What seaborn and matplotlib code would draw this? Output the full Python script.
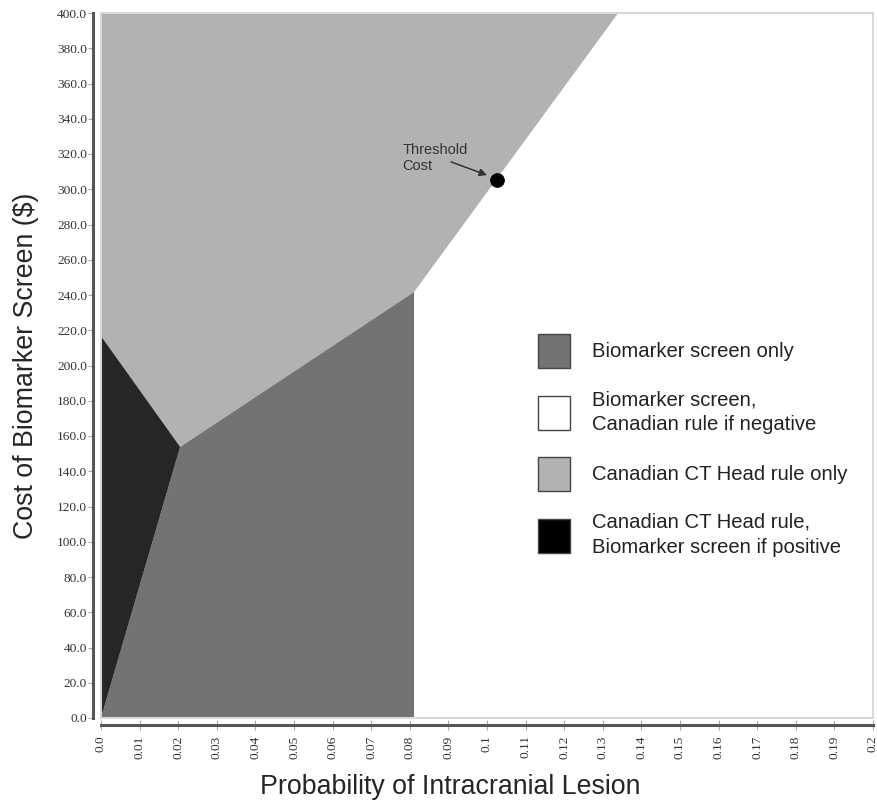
import matplotlib
matplotlib.use("Agg")
import matplotlib.pyplot as plt
import seaborn as sns
import pandas as pd
from matplotlib.patches import Patch, Rectangle

# ---- data ----
# region polygons (probability, cost)
ct_pos_x = [0.0, 0.0, 0.0205]
ct_pos_y = [0.0, 216.7, 153.8]
bio_only_x = [0.0, 0.0205, 0.0811, 0.0811]
bio_only_y = [0.0, 153.8, 241.7, 0.0]
ct_only_x = [0.0, 0.0, 0.134, 0.0811, 0.0205]
ct_only_y = [216.7, 400.0, 400.0, 241.7, 153.8]
threshold_x = [0.1026]
threshold_y = [305.0]

x_ticks = [round(i * 0.01, 2) for i in range(21)]
x_tick_labels = ["0.0", "0.01", "0.02", "0.03", "0.04", "0.05", "0.06", "0.07", "0.08", "0.09",
                 "0.1", "0.11", "0.12", "0.13", "0.14", "0.15", "0.16", "0.17", "0.18", "0.19", "0.2"]
y_ticks = list(range(0, 401, 20))
y_tick_labels = [f"{v:.1f}" for v in y_ticks]

legend_labels = ["Biomarker screen only",
                 "Biomarker screen,\nCanadian rule if negative",
                 "Canadian CT Head rule only",
                 "Canadian CT Head rule,\nBiomarker screen if positive"]
legend_colors = ["#737373", "#ffffff", "#b2b2b2", "#000000"]

c_dark = "#262626"
c_mid = "#737373"
c_light = "#b2b2b2"

sns.set_theme(style="white")
plt.rcParams["font.family"] = ["Liberation Sans", "DejaVu Sans"]
serif = ["Liberation Serif", "DejaVu Serif"]

fig = plt.figure(figsize=(8.78, 8.02), dpi=100)
ax = fig.add_axes([101 / 878, 1 - 718 / 802, 772 / 878, 705 / 802])

# spines first (set_position resets tick settings)
for s in ["top", "right"]:
    ax.spines[s].set_visible(False)
ax.spines["left"].set_position(("outward", 5.5))
ax.spines["bottom"].set_position(("outward", 5.0))
for s in ["left", "bottom"]:
    ax.spines[s].set_color("#555555")
    ax.spines[s].set_linewidth(2.2)

ax.fill(ct_only_x, ct_only_y, color=c_light, lw=0, zorder=1)
ax.fill(bio_only_x, bio_only_y, color=c_mid, lw=0, zorder=1)
ax.fill(ct_pos_x, ct_pos_y, color=c_dark, lw=0, zorder=1)

df_t = pd.DataFrame({"x": threshold_x, "y": threshold_y})
sns.scatterplot(data=df_t, x="x", y="y", ax=ax, color="black", s=100, zorder=5,
                edgecolor="black", linewidth=0.5, legend=False)
ax.annotate("", xy=(0.1000, 308.0), xytext=(0.0907, 315.5),
            arrowprops=dict(arrowstyle="-|>", color="#333333", lw=1.1,
                            mutation_scale=11, shrinkA=0, shrinkB=0))
ax.text(0.0781, 326.5, "Threshold\nCost", fontsize=10.5, color="#333333",
        ha="left", va="top", linespacing=1.2, zorder=6)

ax.set_xlim(0, 0.2)
ax.set_ylim(0, 400)
ax.set_xticks(x_ticks)
ax.set_xticklabels(x_tick_labels, rotation=90, family=serif, fontsize=9.6, color="#333333")
ax.set_yticks(y_ticks)
ax.set_yticklabels(y_tick_labels, family=serif, fontsize=9.6, color="#333333")

ax.tick_params(axis="y", direction="out", length=3.6, width=0.8, color="#aaaaaa", pad=1, left=True)
ax.tick_params(axis="x", direction="inout", length=7, width=0.8, color="#aaaaaa", pad=4, bottom=True)

ax.add_patch(Rectangle((0, 0), 1, 1, transform=ax.transAxes, fill=False,
                       edgecolor="#d8d8d8", lw=1.5, zorder=3, clip_on=False))

ax.set_xlabel("Probability of Intracranial Lesion", fontsize=19.3)
ax.xaxis.set_label_coords((450 - 101) / 772, -0.080)
ax.set_ylabel("Cost of Biomarker Screen ($)", fontsize=19.3)
ax.yaxis.set_label_coords(-0.080, 0.5)

handles = [Patch(facecolor=c, edgecolor="#444444", lw=1.0) for c in legend_colors]
leg = fig.legend(handles, legend_labels, loc="upper left",
                 bbox_to_anchor=(538 / 878, 1 - 334 / 802), frameon=False,
                 fontsize=14.6, handlelength=1.58, handleheight=2.2, handletextpad=1.1,
                 labelspacing=1.1, borderpad=0, borderaxespad=0)
for t in leg.get_texts():
    t.set_color("#222222")
    t.set_linespacing(1.4)

fig.savefig("out.png", dpi=100)
